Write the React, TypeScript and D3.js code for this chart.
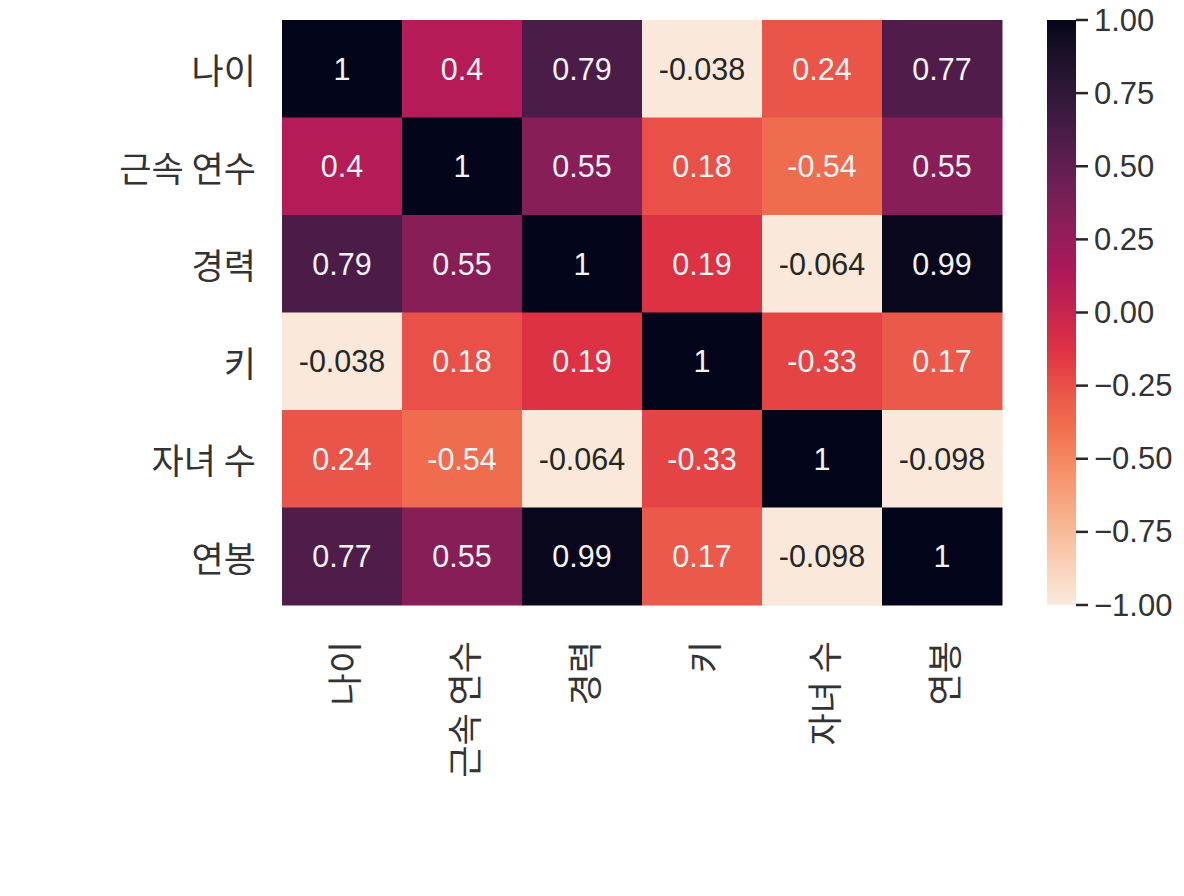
import React from "react";
import * as d3 from "d3";

const labels = ["나이", "근속 연수", "경력", "키", "자녀 수", "연봉"];

// annotated correlation values (text in each cell)
const corrValues: number[][] = [
  [1, 0.4, 0.79, -0.038, 0.24, 0.77],
  [0.4, 1, 0.55, 0.18, -0.54, 0.55],
  [0.79, 0.55, 1, 0.19, -0.064, 0.99],
  [-0.038, 0.18, 0.19, 1, -0.33, 0.17],
  [0.24, -0.54, -0.064, -0.33, 1, -0.098],
  [0.77, 0.55, 0.99, 0.17, -0.098, 1],
];

// colour position of each cell, read against the colour bar
const shadeValues: number[][] = [
  [1, 0.1, 0.6, -0.99, -0.27, 0.58],
  [0.1, 1, 0.32, -0.25, -0.38, 0.32],
  [0.6, 0.32, 1, -0.12, -0.99, 0.98],
  [-0.99, -0.25, -0.12, 1, -0.2, -0.29],
  [-0.27, -0.38, -0.99, -0.2, 1, -0.99],
  [0.58, 0.32, 0.98, -0.29, -0.99, 1],
];

const colorbarTicks = [-1, -0.75, -0.5, -0.25, 0, 0.25, 0.5, 0.75, 1];

// rocket colormap anchor colours (dark -> light)
const rocketStops = ["#03051a", "#35193e", "#701f57", "#ad1759", "#e13342", "#f37651", "#f6b48f", "#faebdd"];

const W = 1184;
const H = 896;
const X0 = 282, X1 = 1002, Y0 = 20, Y1 = 605;
const CB_X = 1047, CB_W = 29;

const rocket = d3
  .scaleLinear<string>()
  .domain(rocketStops.map((_, i) => i / (rocketStops.length - 1)))
  .range(rocketStops)
  .interpolate(d3.interpolateLab);

// rocket_r over [-1, 1]
const color = (v: number) => rocket((1 - v) / 2);

const xScale = d3.scaleBand<string>().domain(labels).range([X0, X1]);
const yScale = d3.scaleBand<string>().domain(labels).range([Y0, Y1]);
const cbScale = d3.scaleLinear().domain([-1, 1]).range([Y1, Y0]);

const fmtAnnot = (v: number) => d3.format(".2~g")(v).replace("\u2212", "-");
const fmtTick = d3.format(".2f");

function textColor(c: string) {
  const rgb = d3.rgb(c);
  const lin = (u: number) => {
    const s = u / 255;
    return s <= 0.03928 ? s / 12.92 : Math.pow((s + 0.055) / 1.055, 2.4);
  };
  const L = 0.2126 * lin(rgb.r) + 0.7152 * lin(rgb.g) + 0.0722 * lin(rgb.b);
  return L > 0.408 ? "#262626" : "#f4f4f4";
}

export default function App() {
  const gradStops = d3.range(0, 1.0001, 0.02);
  const sansFont = "'Liberation Sans', Arial, sans-serif";
  const krFont = "'Noto Sans CJK KR', 'Noto Sans', sans-serif";
  return (
    <svg
      width={W}
      height={H}
      viewBox={`0 0 ${W} ${H}`}
      style={{ position: "absolute", left: 0, top: 0, background: "#ffffff" }}
    >
      <defs>
        <linearGradient id="cbgrad" x1="0" y1="1" x2="0" y2="0">
          {gradStops.map((t) => (
            <stop key={t} offset={t} stopColor={color(-1 + 2 * t)} />
          ))}
        </linearGradient>
      </defs>
      <rect x={0} y={0} width={W} height={H} fill="#ffffff" />
      {/* cells */}
      {labels.map((rowLab, i) =>
        labels.map((colLab, j) => {
          const c = color(shadeValues[i][j]);
          const x = xScale(colLab)!;
          const y = yScale(rowLab)!;
          return (
            <g key={`${i}-${j}`}>
              <rect x={x} y={y} width={xScale.bandwidth() + 0.5} height={yScale.bandwidth() + 0.5} fill={c} />
              <text
                x={x + xScale.bandwidth() / 2}
                y={y + yScale.bandwidth() / 2}
                textAnchor="middle"
                dominantBaseline="central"
                fontFamily={sansFont}
                fontSize={30.5}
                fill={textColor(c)}
              >
                {fmtAnnot(corrValues[i][j])}
              </text>
            </g>
          );
        })
      )}
      {/* y labels */}
      {labels.map((lab) => (
        <text
          key={`y-${lab}`}
          x={X0 - 26}
          y={yScale(lab)! + yScale.bandwidth() / 2}
          textAnchor="end"
          dominantBaseline="central"
          fontFamily={krFont}
          fontSize={35}
          fill="#333333"
        >
          {lab}
        </text>
      ))}
      {/* x labels */}
      {labels.map((lab) => (
        <text
          key={`x-${lab}`}
          transform={`translate(${xScale(lab)! + xScale.bandwidth() / 2},${Y1 + 36}) rotate(-90)`}
          textAnchor="end"
          dominantBaseline="central"
          fontFamily={krFont}
          fontSize={35}
          fill="#333333"
        >
          {lab}
        </text>
      ))}
      {/* colour bar */}
      <rect x={CB_X} y={Y0} width={CB_W} height={Y1 - Y0} fill="url(#cbgrad)" />
      {colorbarTicks.map((t) => (
        <g key={`cb-${t}`}>
          <line x1={CB_X + CB_W} x2={CB_X + CB_W + 12} y1={cbScale(t)} y2={cbScale(t)} stroke="#262626" strokeWidth={2.5} />
          <text
            x={CB_X + CB_W + 18}
            y={cbScale(t)}
            dominantBaseline="central"
            fontFamily={sansFont}
            fontSize={31}
            fill="#333333"
          >
            {fmtTick(t)}
          </text>
        </g>
      ))}
    </svg>
  );
}
